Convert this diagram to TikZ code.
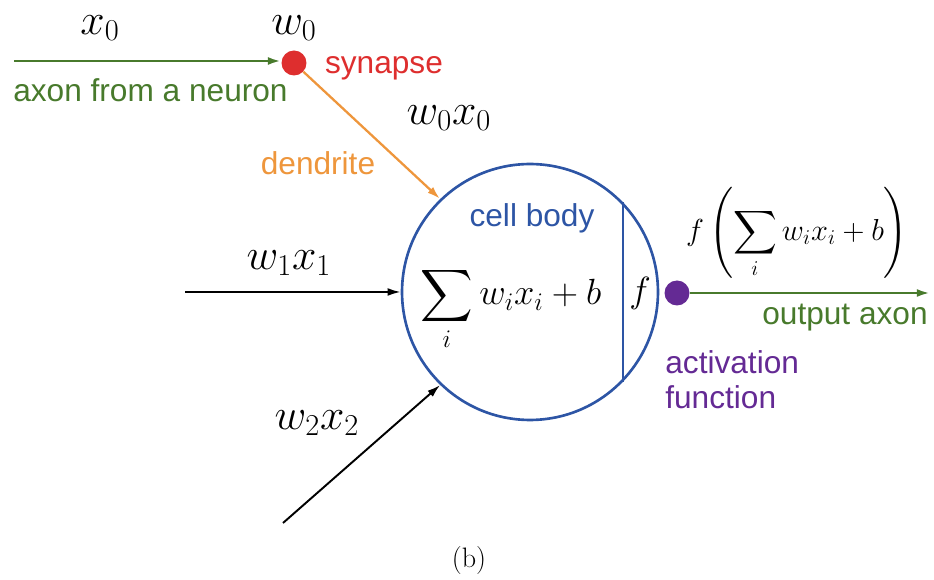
\documentclass[tikz,border=0pt]{standalone}
\usepackage{amsmath}
\usepackage{fontspec}
\setsansfont{Liberation Sans}
\usetikzlibrary{arrows.meta}
\definecolor{axongreen}{RGB}{72,122,44}
\definecolor{synred}{RGB}{222,46,46}
\definecolor{dendorange}{RGB}{238,150,60}
\definecolor{cellblue}{RGB}{45,85,165}
\definecolor{actpurple}{RGB}{100,42,148}
\begin{document}
\begin{tikzpicture}[x=0.02cm,y=-0.02cm,>={Latex[length=7.5pt,width=4.5pt]},
    lbl/.style={font=\fontsize{18}{20}\selectfont\sffamily,inner sep=0pt},
    mlbl/.style={font=\fontsize{25}{29}\selectfont,inner sep=0pt},
    dot/.style={circle,inner sep=0pt,minimum size=0.5cm}]
  \useasboundingbox (0,0) rectangle (934,580);
  \node[draw=cellblue,line width=1.5pt,circle,minimum size=5.12cm] (body) at (530,292) {};
  \draw[cellblue,line width=1.2pt] (body.44) -- (body.-44);
  \node[dot,fill=synred] (syn) at (294,63) {};
  \node[dot,fill=actpurple] (act) at (677,293) {};
  \coordinate (axin) at (14,61);
  \coordinate (in1) at (185,292);
  \coordinate (in2) at (283,523);
  \coordinate (outend) at (930,293);
  \draw[->,axongreen,line width=1.5pt] (axin) -- (syn.west |- axin);
  \draw[->,dendorange,line width=1.3pt] (syn) -- (body.134);
  \draw[->,line width=1.1pt] (in1) -- (body.west);
  \draw[->,line width=1.1pt] (in2) -- (body.226);
  \draw[->,axongreen,line width=1.4pt] (act) -- (outend);
  \node[mlbl] (x0) at (100,28) {$x_0$};
  \node[mlbl] (w0) at (294,28) {$w_0$};
  \node[mlbl] (w0x0) at (449,118) {$w_0x_0$};
  \node[mlbl] (w1x1) at (289,263) {$w_1x_1$};
  \node[mlbl] (w2x2) at (317,423) {$w_2x_2$};
  \node[lbl,text=synred] (synlbl) at (384,68) {synapse};
  \node[lbl,text=axongreen,anchor=west] (axlbl) at (13,90) {axon from a neuron};
  \node[lbl,text=dendorange] (dendlbl) at (318,163) {dendrite};
  \node[lbl,text=cellblue] (celllbl) at (532,218) {cell body};
  \node[inner sep=0pt,anchor=base,font=\fontsize{22}{26}\selectfont] (sumlbl) at (511,305)
    {$\displaystyle\sum_i w_ix_i+b$};
  \node[inner sep=0pt,anchor=base,font=\fontsize{22}{26}\selectfont] (flbl) at (640,303) {$f$};
  \node[inner sep=0pt,font=\fontsize{17}{20}\selectfont] (outf) at (797,233)
    {$\displaystyle f\left(\sum_i w_ix_i+b\right)$};
  \node[lbl,text=axongreen,anchor=east] (outlbl) at (928,318) {output axon};
  \node[lbl,text=actpurple,anchor=west,align=left] (actlbl) at (665,380) {activation\\function};
  \node[inner sep=0pt,font=\fontsize{16}{19}\selectfont] (cap) at (469,560) {(b)};
\end{tikzpicture}
\end{document}
